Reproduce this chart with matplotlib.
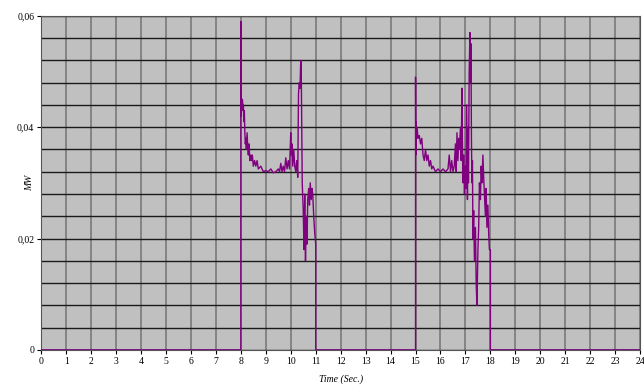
import matplotlib
matplotlib.use("Agg")
import matplotlib.pyplot as plt
import numpy as np

# power trace (MW), two bursts, zero elsewhere
t1 = [8.0, 8.0, 8.01, 8.02, 8.04, 8.06, 8.08, 8.1, 8.12, 8.14, 8.16, 8.18, 8.2, 8.22, 8.25,
      8.28, 8.3, 8.33, 8.36, 8.4, 8.43, 8.46, 8.5, 8.55, 8.6, 8.65, 8.7, 8.8, 8.9, 9.0,
      9.1, 9.2, 9.3, 9.4, 9.5, 9.55, 9.6, 9.65, 9.7, 9.75, 9.8, 9.85, 9.9, 9.95, 10.0,
      10.02, 10.05, 10.08, 10.12, 10.16, 10.2, 10.24, 10.28, 10.31, 10.34, 10.37, 10.4,
      10.42, 10.44, 10.46, 10.5, 10.53, 10.56, 10.59, 10.62, 10.65, 10.68, 10.72, 10.75,
      10.78, 10.82, 10.85, 10.88, 10.92, 10.96, 11.0, 11.0]
p1 = [0.0, 0.059, 0.042, 0.045, 0.043, 0.045, 0.044, 0.044, 0.041, 0.043, 0.039, 0.037, 0.038,
      0.036, 0.039, 0.036, 0.035, 0.037, 0.034, 0.035, 0.034, 0.035, 0.033, 0.034, 0.033,
      0.034, 0.0325, 0.033, 0.032, 0.0322, 0.032, 0.0325, 0.0318, 0.032, 0.0325, 0.032,
      0.0335, 0.032, 0.033, 0.032, 0.0345, 0.0325, 0.034, 0.0325, 0.039, 0.035, 0.037,
      0.033, 0.036, 0.033, 0.032, 0.034, 0.031, 0.046, 0.048, 0.047, 0.052, 0.050, 0.040,
      0.030, 0.025, 0.018, 0.028, 0.016, 0.024, 0.019, 0.027, 0.029, 0.026, 0.030, 0.027,
      0.029, 0.028, 0.024, 0.021, 0.019, 0.0]

t2 = [15.0, 15.0, 15.01, 15.02, 15.04, 15.06, 15.1, 15.15, 15.2, 15.25, 15.3, 15.35, 15.4,
      15.45, 15.5, 15.55, 15.6, 15.65, 15.7, 15.8, 15.9, 16.0, 16.1, 16.2, 16.3, 16.35,
      16.4, 16.45, 16.5, 16.55, 16.6, 16.63, 16.66, 16.7, 16.73, 16.76, 16.8, 16.83, 16.86,
      16.88, 16.9, 16.93, 16.96, 16.99, 17.02, 17.05, 17.08, 17.1, 17.12, 17.15, 17.18,
      17.2, 17.22, 17.24, 17.26, 17.28, 17.3, 17.33, 17.36, 17.4, 17.43, 17.46, 17.5,
      17.53, 17.56, 17.6, 17.63, 17.66, 17.7, 17.73, 17.76, 17.8, 17.83, 17.86, 17.9,
      17.93, 17.96, 18.0, 18.0]
p2 = [0.0, 0.049, 0.035, 0.041, 0.038, 0.040, 0.038, 0.0385, 0.037, 0.038, 0.035, 0.034,
      0.036, 0.034, 0.035, 0.033, 0.034, 0.0325, 0.033, 0.032, 0.0325, 0.032, 0.0325,
      0.032, 0.0325, 0.035, 0.032, 0.034, 0.032, 0.033, 0.037, 0.032, 0.039, 0.034, 0.038,
      0.036, 0.040, 0.034, 0.047, 0.037, 0.030, 0.035, 0.028, 0.033, 0.029, 0.044, 0.027,
      0.040, 0.030, 0.050, 0.057, 0.048, 0.055, 0.038, 0.030, 0.034, 0.020, 0.025, 0.016,
      0.022, 0.012, 0.008, 0.018, 0.022, 0.030, 0.027, 0.033, 0.030, 0.035, 0.031, 0.028,
      0.024, 0.029, 0.022, 0.026, 0.021, 0.018, 0.018, 0.0]

time = [0.0] + t1 + t2 + [24.0]
power = [0.0] + p1 + p2 + [0.0]

xticks = list(range(0, 25))
yticks = [0.0, 0.02, 0.04, 0.06]
ylabels = ["0", "0,02", "0,04", "0,06"]

fig = plt.figure(figsize=(6.44, 3.87), dpi=100)
ax = fig.add_axes([0.064, 0.096, 0.93, 0.863])
ax.set_facecolor("#c0c0c0")

ax.plot(time, power, color="#800080", lw=1.0, zorder=3)

ax.set_xlim(0, 24)
ax.set_ylim(0, 0.06)
ax.set_xticks(xticks)
ax.set_xticklabels([str(x) for x in xticks], family="Liberation Serif", fontsize=7)
ax.set_yticks(yticks)
ax.set_yticklabels(ylabels, family="Liberation Serif", fontsize=7)
ax.set_yticks(np.arange(0, 0.0601, 0.004), minor=True)
ax.tick_params(axis="y", which="minor", length=0)
ax.tick_params(length=3, width=0.8, pad=2)

ax.grid(True, axis="x", color="#7a7a7a", lw=1.2, zorder=1)
ax.grid(True, axis="y", which="both", color="#1a1a1a", lw=1.0, zorder=1)
ax.set_axisbelow(True)
for s in ax.spines.values():
    s.set_color("#555555")
    s.set_linewidth(0.8)

ax.set_xlabel("Time (Sec.)", family="Liberation Serif", style="italic", fontsize=7, labelpad=6)
ax.set_ylabel("MW", family="Liberation Serif", style="italic", fontsize=7)
ax.yaxis.set_label_coords(-0.012, 0.5)

fig.savefig("out.png", dpi=100)
plt.close()
